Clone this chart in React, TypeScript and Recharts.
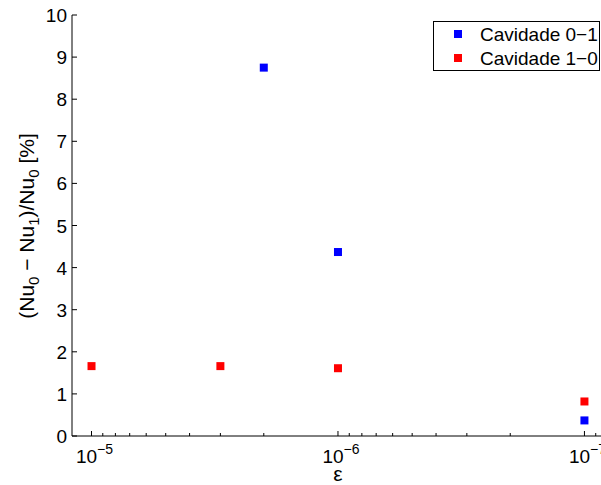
import React from "react";
import { ScatterChart, Scatter, XAxis, YAxis, Legend } from "recharts";

// values
const blueEps = [2e-6, 1e-6, 1e-7];
const blueVal = [8.75, 4.37, 0.37];
const redEps = [1e-5, 3e-6, 1e-6, 1e-7];
const redVal = [1.66, 1.66, 1.61, 0.82];

const xMajor = [1e-5, 1e-6, 1e-7];
const xMinor = [
  9e-6, 8e-6, 7e-6, 6e-6, 5e-6, 4e-6, 3e-6, 2e-6,
  9e-7, 8e-7, 7e-7, 6e-7, 5e-7, 4e-7, 3e-7, 2e-7,
  9e-8,
];
const yTicks = [0, 1, 2, 3, 4, 5, 6, 7, 8, 9, 10];

const blueData = blueEps.map((eps, i) => ({ eps, val: blueVal[i] }));
const redData = redEps.map((eps, i) => ({ eps, val: redVal[i] }));

const W = 620;
const H = 485;
const M = { top: 15, right: 16, bottom: 0, left: 0 };
const Y_W = 72;
const X_H = 49;
const LEFT = M.left + Y_W;
const RIGHT = W - M.right;
const TOP = M.top;
const BOTTOM = H - M.bottom - X_H;

const FONT = "'Liberation Sans', Arial, Helvetica, sans-serif";

const isMajor = (v: number) => Math.abs(Math.log10(v) - Math.round(Math.log10(v))) < 1e-6;

const BottomTick = (props: any) => {
  const { x, payload } = props;
  const v = payload.value;
  const major = isMajor(v);
  const exp = Math.round(Math.log10(v));
  return (
    <g>
      <line x1={x} x2={x} y1={BOTTOM} y2={BOTTOM - (major ? 5 : 3)} stroke="#000" />
      {major && (
        <text x={x + 3} y={463} textAnchor="middle" fontSize={19} fontFamily={FONT} fill="#000">
          10
          <tspan dy={-9} fontSize={14}>
            {"\u2212" + Math.abs(exp)}
          </tspan>
        </text>
      )}
    </g>
  );
};

const TopTick = (props: any) => {
  const { x, payload } = props;
  const major = isMajor(payload.value);
  return <line x1={x} x2={x} y1={TOP} y2={TOP + (major ? 5 : 3)} stroke="#000" />;
};

const LeftTick = (props: any) => {
  const { y, payload } = props;
  return (
    <g>
      <line x1={LEFT} x2={LEFT + 5} y1={y} y2={y} stroke="#000" />
      <text x={67} y={y + 7} textAnchor="end" fontSize={19} fontFamily={FONT} fill="#000">
        {payload.value}
      </text>
    </g>
  );
};

const RightTick = (props: any) => {
  const { y } = props;
  return <line x1={RIGHT} x2={RIGHT - 5} y1={y} y2={y} stroke="#000" />;
};

const Square = (props: any) => {
  const { cx, cy, fill } = props;
  return <rect x={cx - 4} y={cy - 4} width={8} height={8} fill={fill} />;
};

const YTitle = () => (
  <text
    transform="translate(34,226) rotate(-90)"
    textAnchor="middle"
    fontSize={21}
    fontFamily={FONT}
    fill="#000"
  >
    (Nu<tspan dy={5} fontSize={15}>0</tspan>
    <tspan dy={-5}> {"\u2212"} Nu</tspan>
    <tspan dy={5} fontSize={15}>1</tspan>
    <tspan dy={-5}>)/Nu</tspan>
    <tspan dy={5} fontSize={15}>0</tspan>
    <tspan dy={-5}> [%]</tspan>
  </text>
);

const XTitle = () => (
  <text x={338} y={481} textAnchor="middle" fontSize={21} fontFamily={FONT} fill="#000">
    ε
  </text>
);

const LegendBox = (props: any) => {
  const { payload } = props;
  return (
    <svg width={168} height={51} style={{ display: "block" }}>
      <rect x={0.5} y={0.5} width={166} height={49} fill="#fff" stroke="#000" />
      {(payload || []).map((p: any, i: number) => (
        <g key={i}>
          <rect x={21} y={9 + i * 24} width={8} height={8} fill={p.color} />
          <text x={47} y={20 + i * 24} fontSize={19} fontFamily={FONT} fill="#000">
            {p.value}
          </text>
        </g>
      ))}
    </svg>
  );
};

export default function App() {
  const ticks = [...xMajor, ...xMinor];
  return (
    <div
      style={{
        position: "absolute",
        left: 0,
        top: 0,
        width: 601,
        height: 485,
        overflow: "hidden",
        background: "#fff",
      }}
    >
      <ScatterChart width={W} height={H} margin={M}>
        <XAxis
          xAxisId={0}
          dataKey="eps"
          type="number"
          scale="log"
          domain={[8.33e-8, 1.2e-5]}
          reversed
          allowDataOverflow
          ticks={ticks}
          interval={0}
          height={X_H}
          tickLine={false}
          axisLine={{ stroke: "#000" }}
          tick={<BottomTick />}
          label={<XTitle />}
        />
        <XAxis
          xAxisId="top"
          dataKey="eps"
          orientation="top"
          type="number"
          scale="log"
          domain={[8.33e-8, 1.2e-5]}
          reversed
          allowDataOverflow
          ticks={ticks}
          interval={0}
          height={0}
          tickLine={false}
          axisLine={{ stroke: "#000" }}
          tick={<TopTick />}
        />
        <YAxis
          yAxisId={0}
          dataKey="val"
          type="number"
          domain={[0, 10]}
          allowDataOverflow
          ticks={yTicks}
          interval={0}
          width={Y_W}
          tickLine={false}
          axisLine={{ stroke: "#000" }}
          tick={<LeftTick />}
          label={<YTitle />}
        />
        <YAxis
          yAxisId="right"
          orientation="right"
          type="number"
          domain={[0, 10]}
          allowDataOverflow
          ticks={yTicks}
          interval={0}
          width={0}
          tickLine={false}
          axisLine={{ stroke: "#000" }}
          tick={<RightTick />}
        />
        <Legend
          layout="vertical"
          align="center"
          verticalAlign="middle"
          content={<LegendBox />}
          wrapperStyle={{ position: "absolute", left: 433, top: 21, width: 168, height: 51 }}
        />
        <Scatter
          name={"Cavidade 0\u22121"}
          data={blueData}
          fill="#0000ff"
          shape={<Square />}
          isAnimationActive={false}
        />
        <Scatter
          name={"Cavidade 1\u22120"}
          data={redData}
          fill="#ff0000"
          shape={<Square />}
          isAnimationActive={false}
        />
      </ScatterChart>
    </div>
  );
}
